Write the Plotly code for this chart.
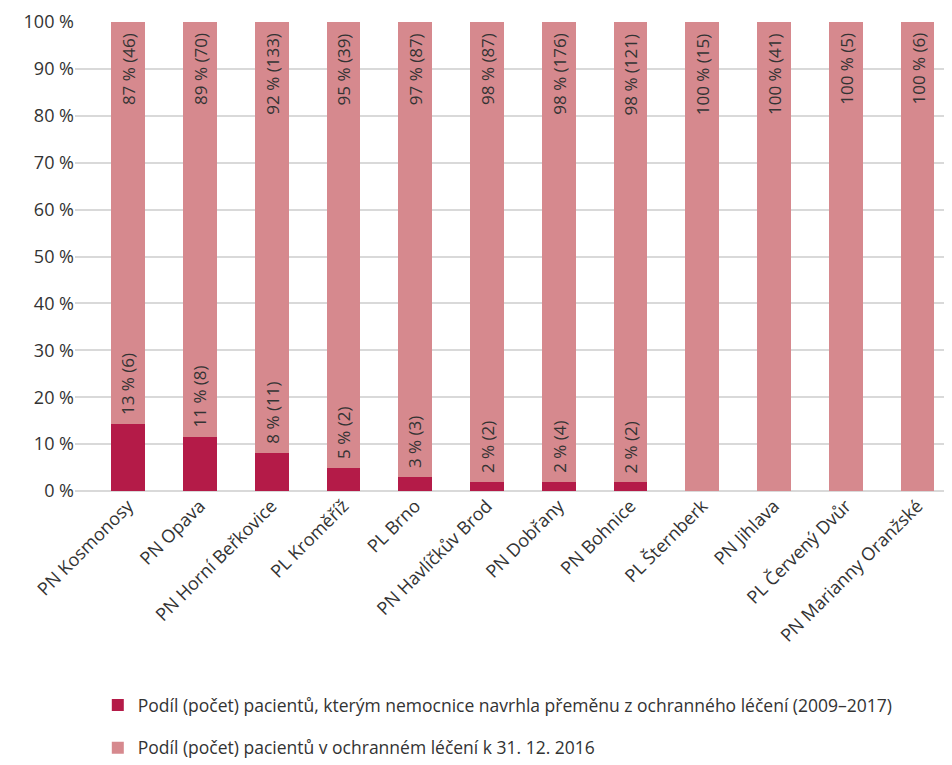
import plotly.graph_objects as go

categories = ["PN Kosmonosy", "PN Opava", "PN Horní Beřkovice", "PL Kroměříž", "PL Brno",
              "PN Havlíčkův Brod", "PN Dobřany", "PN Bohnice", "PL Šternberk", "PN Jihlava",
              "PL Červený Dvůr", "PN Marianny Oranžské"]
# bar heights as drawn (%)
proposed_share = [14.3, 11.6, 8.1, 5.0, 3.0, 1.9, 1.9, 1.9, 0, 0, 0, 0]
proposed_pct_label = [13, 11, 8, 5, 3, 2, 2, 2, None, None, None, None]
proposed_count = [6, 8, 11, 2, 3, 2, 4, 2, None, None, None, None]
treated_pct_label = [87, 89, 92, 95, 97, 98, 98, 98, 100, 100, 100, 100]
treated_count = [46, 70, 133, 39, 87, 87, 176, 121, 15, 41, 5, 6]
treated_share = [100 - v for v in proposed_share]

name_dark = "Podíl (počet) pacientů, kterým nemocnice navrhla přeměnu z ochranného léčení (2009–2017)"
name_light = "Podíl (počet) pacientů v ochranném léčení k 31. 12. 2016"

DARK = "#b41b48"
LIGHT = "#d6898e"
FONT = "Open Sans"
TXT = "#333333"

fig = go.Figure()
fig.add_trace(go.Bar(x=categories, y=proposed_share, name=name_dark, marker_color=DARK,
                     marker_line_width=0, legendgroup="a"))
fig.add_trace(go.Bar(x=categories, y=treated_share, name=name_light, marker_color=LIGHT,
                     marker_line_width=0, legendgroup="b"))

ann = []
for i, c in enumerate(categories):
    if proposed_pct_label[i] is not None:
        ann.append(dict(x=c, y=proposed_share[i], xref="x", yref="y",
                        text=f"{proposed_pct_label[i]} % ({proposed_count[i]})",
                        textangle=-90, showarrow=False, yanchor="bottom", xanchor="center",
                        yshift=7, font=dict(family=FONT, size=17, color=TXT)))
    ann.append(dict(x=c, y=100, xref="x", yref="y",
                    text=f"{treated_pct_label[i]} % ({treated_count[i]})",
                    textangle=-90, showarrow=False, yanchor="top", xanchor="center",
                    yshift=-9, font=dict(family=FONT, size=17, color=TXT)))

fig.update_layout(
    barmode="stack",
    bargap=0.53,
    width=944, height=757,
    margin=dict(l=67, r=0, t=14, b=274, autoexpand=False),
    plot_bgcolor="white", paper_bgcolor="white",
    font=dict(family=FONT, size=17, color=TXT),
    annotations=ann,
    showlegend=True,
    legend=dict(orientation="v", x=0.026, xanchor="left", y=-0.418, yanchor="top",
                font=dict(family=FONT, size=17.5, color=TXT),
                tracegroupgap=17, itemwidth=30, traceorder="grouped"),
    xaxis=dict(range=[-0.74, 11.48], tickangle=-45, showgrid=False, showline=False,
               ticks="", tickfont=dict(family=FONT, size=18, color=TXT)),
    yaxis=dict(range=[0, 100], dtick=10, ticksuffix=" %", showgrid=True,
               gridcolor="#d9d9d9", gridwidth=1.5, zeroline=True, zerolinecolor="#d9d9d9",
               zerolinewidth=1.5, showline=False, ticks="",
               tickfont=dict(family=FONT, size=18, color=TXT)),
)

fig.write_html("out.html")
